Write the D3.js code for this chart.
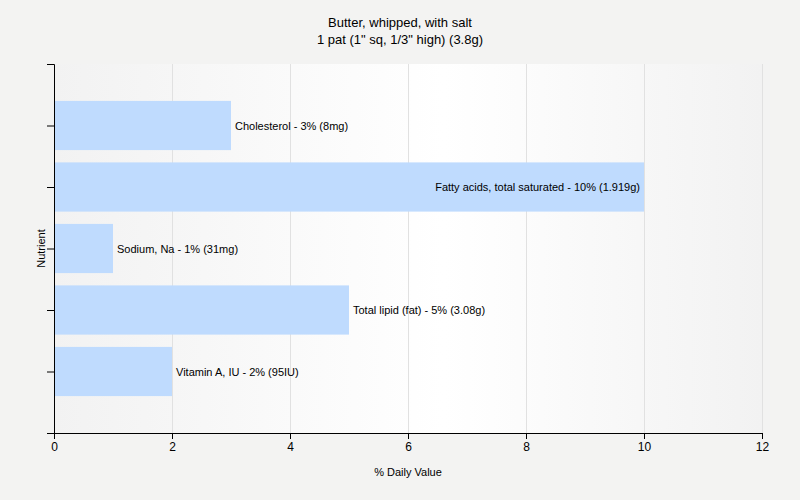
<!DOCTYPE html>
<html><head><meta charset="utf-8">
<script src="https://cdn.jsdelivr.net/npm/d3@7"></script>
<style>body{margin:0;background:#f3f3f2;}svg{display:block;font-family:"Liberation Sans",Arial,sans-serif;}</style>
</head><body><svg id="c" width="800" height="500"></svg>
<script>
const categories = ["Vitamin A, IU", "Total lipid (fat)", "Sodium, Na", "Fatty acids, total saturated", "Cholesterol"];
const values = [2, 5, 1, 10, 3];
const amounts = ["95IU", "3.08g", "31mg", "1.919g", "8mg"];
const xTicks = [0, 2, 4, 6, 8, 10, 12];
const title1 = "Butter, whipped, with salt";
const title2 = "1 pat (1\" sq, 1/3\" high) (3.8g)";

const svg = d3.select("#c");
const L = 54, R = 762, T = 64, B = 433;
const x = d3.scaleLinear().domain([0, 12]).range([L, R]);
const y = d3.scaleLinear().domain([0, categories.length + 1]).range([B, T]);

const defs = svg.append("defs");
const g = defs.append("linearGradient").attr("id", "bg").attr("x1", "0").attr("x2", "1").attr("y1", "0").attr("y2", "0");
g.append("stop").attr("offset", "0").attr("stop-color", "#f2f2f2");
g.append("stop").attr("offset", "0.55").attr("stop-color", "#ffffff");
g.append("stop").attr("offset", "1").attr("stop-color", "#f2f2f2");
svg.append("rect").attr("x", L).attr("y", T).attr("width", R - L).attr("height", B - T).attr("fill", "url(#bg)");

svg.append("g").selectAll("line").data(xTicks.slice(1)).join("line")
  .attr("x1", d => x(d) + 0.5).attr("x2", d => x(d) + 0.5).attr("y1", T).attr("y2", B)
  .attr("stroke", "#e1e1e1").attr("stroke-width", 1);

const step = y(0) - y(1);
const bh = step * 0.8;
svg.append("g").selectAll("rect").data(values).join("rect")
  .attr("x", x(0)).attr("y", (d, i) => y(i + 1) - bh / 2)
  .attr("width", d => x(d) - x(0)).attr("height", bh).attr("fill", "#bfdbfe");

svg.append("g").selectAll("text").data(values).join("text")
  .attr("font-size", 11).attr("fill", "#000").attr("dy", "0.4em")
  .attr("y", (d, i) => y(i + 1))
  .attr("x", d => d >= 8 ? x(d) - 4 : x(d) + 4)
  .attr("text-anchor", d => d >= 8 ? "end" : "start")
  .text((d, i) => `${categories[i]} - ${d}% (${amounts[i]})`);

const xa = svg.append("g").attr("transform", `translate(0,${B})`)
  .call(d3.axisBottom(x).tickValues(xTicks).tickSize(6).tickPadding(3));
xa.select(".domain").attr("stroke", "#000").attr("d", `M${L - 7},0.5H${R}`);
xa.selectAll("text").attr("font-size", 12).attr("font-family", "'Liberation Sans',Arial,sans-serif").attr("fill", "#000");

const ya = svg.append("g").attr("transform", `translate(${L},0)`)
  .call(d3.axisLeft(y).tickValues(d3.range(0, categories.length + 2)).tickSize(7).tickFormat(""));
ya.select(".domain").attr("stroke", "#000").attr("d", `M-7,${T}.5H0.5V${B}`);

svg.append("text").attr("x", 400).attr("y", 27).attr("text-anchor", "middle").attr("font-size", 13).text(title1);
svg.append("text").attr("x", 400).attr("y", 44).attr("text-anchor", "middle").attr("font-size", 13).text(title2);
svg.append("text").attr("x", 408).attr("y", 476).attr("text-anchor", "middle").attr("font-size", 11).text("% Daily Value");
svg.append("text").attr("transform", `translate(45,${(T + B) / 2}) rotate(-90)`).attr("text-anchor", "middle").attr("font-size", 11).text("Nutrient");
</script></body></html>
